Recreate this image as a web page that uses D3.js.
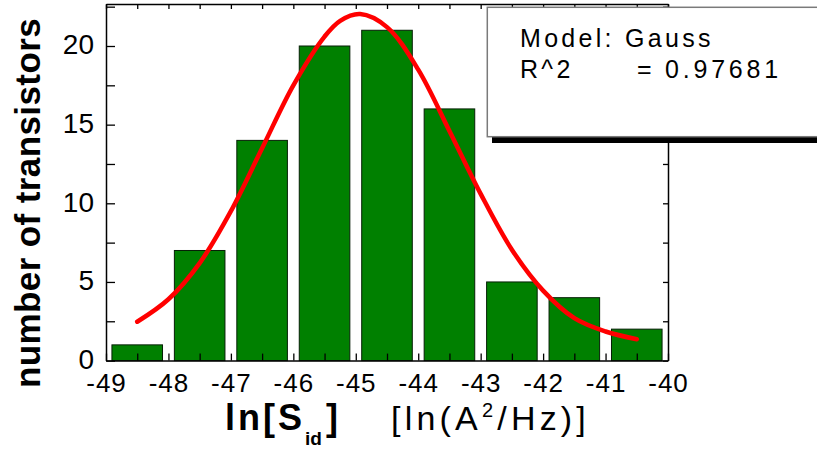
<!DOCTYPE html>
<html>
<head>
<meta charset="utf-8">
<script src="https://cdn.jsdelivr.net/npm/d3@7"></script>
<style>
  html, body { margin: 0; padding: 0; background: #fff; }
  svg { display: block; }
  text { font-family: "Liberation Sans", Arial, sans-serif; fill: #000; }
</style>
</head>
<body>
<svg id="chart" width="817" height="450"></svg>
<script>
// ---- data ----
const binCenters = [-48.5, -47.5, -46.5, -45.5, -44.5, -43.5, -42.5, -41.5, -40.5];
const counts     = [1, 7, 14, 20, 21, 16, 5, 4, 2];
const fitX = [-48.5, -48, -47.5, -47, -46.5, -46, -45.5, -45.25, -44.93, -44.5, -44, -43.5, -43, -42.5, -42, -41.5, -41, -40.5];
const fitY = [2.47, 3.9, 6.2, 9.5, 13.5, 17.5, 20.6, 21.6, 22.03, 21.2, 18.5, 14.6, 10.6, 7.05, 4.45, 2.7, 1.85, 1.36];
const xTickLabels = [-49, -48, -47, -46, -45, -44, -43, -42, -41, -40];
const yTickLabels = [0, 5, 10, 15, 20];
const legendModel = "Model: Gauss";
const legendR2Label = "R^2";
const legendR2Value = "0.97681";

// ---- layout ----
const L = 106, R = 668, T = 4, B = 360.6;
const svg = d3.select("#chart");
const x = d3.scaleLinear().domain([-49, -40]).range([L, R]);
const y = d3.scaleLinear().domain([0, 22.67]).range([B, T]);
const barW = 0.81;

// bars
svg.append("g").selectAll("rect")
  .data(binCenters.map((c, i) => ({c, v: counts[i]})))
  .join("rect")
  .attr("x", d => x(d.c - barW / 2))
  .attr("width", d => x(d.c + barW / 2) - x(d.c - barW / 2))
  .attr("y", d => y(d.v))
  .attr("height", d => y(0) - y(d.v))
  .attr("fill", "#008000")
  .attr("stroke", "#061f06")
  .attr("stroke-width", 1);

// fit curve
const line = d3.line().x(d => x(d[0])).y(d => y(d[1])).curve(d3.curveCatmullRom);
svg.append("path")
  .datum(fitX.map((v, i) => [v, fitY[i]]))
  .attr("d", line)
  .attr("fill", "none")
  .attr("stroke", "#ff0000")
  .attr("stroke-width", 4.5)
  .attr("stroke-linecap", "round");

// axes
const halfX = d3.range(-49, -39.99, 0.5);
const quarterY = d3.range(0, 22.6, 2.5);
const fmt = d => String(d);

const gx = svg.append("g").attr("transform", `translate(0,${B})`)
  .call(d3.axisBottom(x).tickValues(halfX).tickSizeInner(-7).tickSizeOuter(0)
    .tickFormat(d => xTickLabels.includes(d) ? fmt(d) : ""));
const gy = svg.append("g").attr("transform", `translate(${L},0)`)
  .call(d3.axisLeft(y).tickValues(quarterY).tickSizeInner(-9).tickSizeOuter(0)
    .tickFormat(d => yTickLabels.includes(d) ? fmt(d) : ""));
const gt = svg.append("g").attr("transform", `translate(0,${T})`)
  .call(d3.axisTop(x).tickValues(halfX).tickSizeInner(-5).tickSizeOuter(0).tickFormat(""));
const gr = svg.append("g").attr("transform", `translate(${R},0)`)
  .call(d3.axisRight(y).tickValues(quarterY).tickSizeInner(-5).tickSizeOuter(0).tickFormat(""));

[gx, gy, gt, gr].forEach(g => {
  g.select(".domain").attr("stroke", "#000").attr("stroke-width", 1.5);
  g.selectAll(".tick line").attr("stroke", "#000").attr("stroke-width", 1.3);
});
gx.selectAll(".tick text")
  .attr("y", 31).attr("dy", 0)
  .style("font-size", "26px").style("letter-spacing", "1px");
gy.selectAll(".tick text")
  .attr("x", -12).attr("dy", "0.28em")
  .style("font-size", "28px");

// axis titles
svg.append("text")
  .attr("transform", "translate(40,203) rotate(-90)")
  .attr("text-anchor", "middle")
  .style("font-size", "35px").style("font-weight", "bold").style("letter-spacing", "0.4px")
  .text("number of transistors");

const xt = svg.append("g");
xt.append("text").attr("x", 225).attr("y", 430)
  .style("font-size", "36px").style("font-weight", "bold")
  .attr("textLength", 77).attr("lengthAdjust", "spacing")
  .text("ln[S");
xt.append("text").attr("x", 305).attr("y", 445)
  .style("font-size", "19px").style("font-weight", "bold")
  .text("id");
xt.append("text").attr("x", 326).attr("y", 430)
  .style("font-size", "36px").style("font-weight", "bold")
  .text("]");
const reg = xt.append("text").attr("x", 391).attr("y", 430)
  .style("font-size", "34px").style("letter-spacing", "4.2px");
reg.append("tspan").text("[ln(A");
reg.append("tspan").attr("dy", -13).style("font-size", "20px").text("2");
reg.append("tspan").attr("dy", 13).text("/Hz)]");

// legend box
const lg = svg.append("g");
lg.append("rect").attr("x", 492).attr("y", 12).attr("width", 400).attr("height", 131).attr("fill", "#000");
lg.append("rect").attr("x", 487.3).attr("y", 7.3).attr("width", 400).attr("height", 129.4)
  .attr("fill", "#fff").attr("stroke", "#7a7a7a").attr("stroke-width", 1.5);
lg.append("text").attr("x", 520).attr("y", 46.7)
  .style("font-size", "25px").style("letter-spacing", "3.3px").text(legendModel);
lg.append("text").attr("x", 520).attr("y", 78.3)
  .style("font-size", "25px").style("letter-spacing", "3.3px").text(legendR2Label);
lg.append("text").attr("x", 637).attr("y", 78.3)
  .style("font-size", "25px").text("=");
lg.append("text").attr("x", 665).attr("y", 78.3)
  .style("font-size", "25px").style("letter-spacing", "3.8px").text(legendR2Value);
</script>
</body>
</html>
